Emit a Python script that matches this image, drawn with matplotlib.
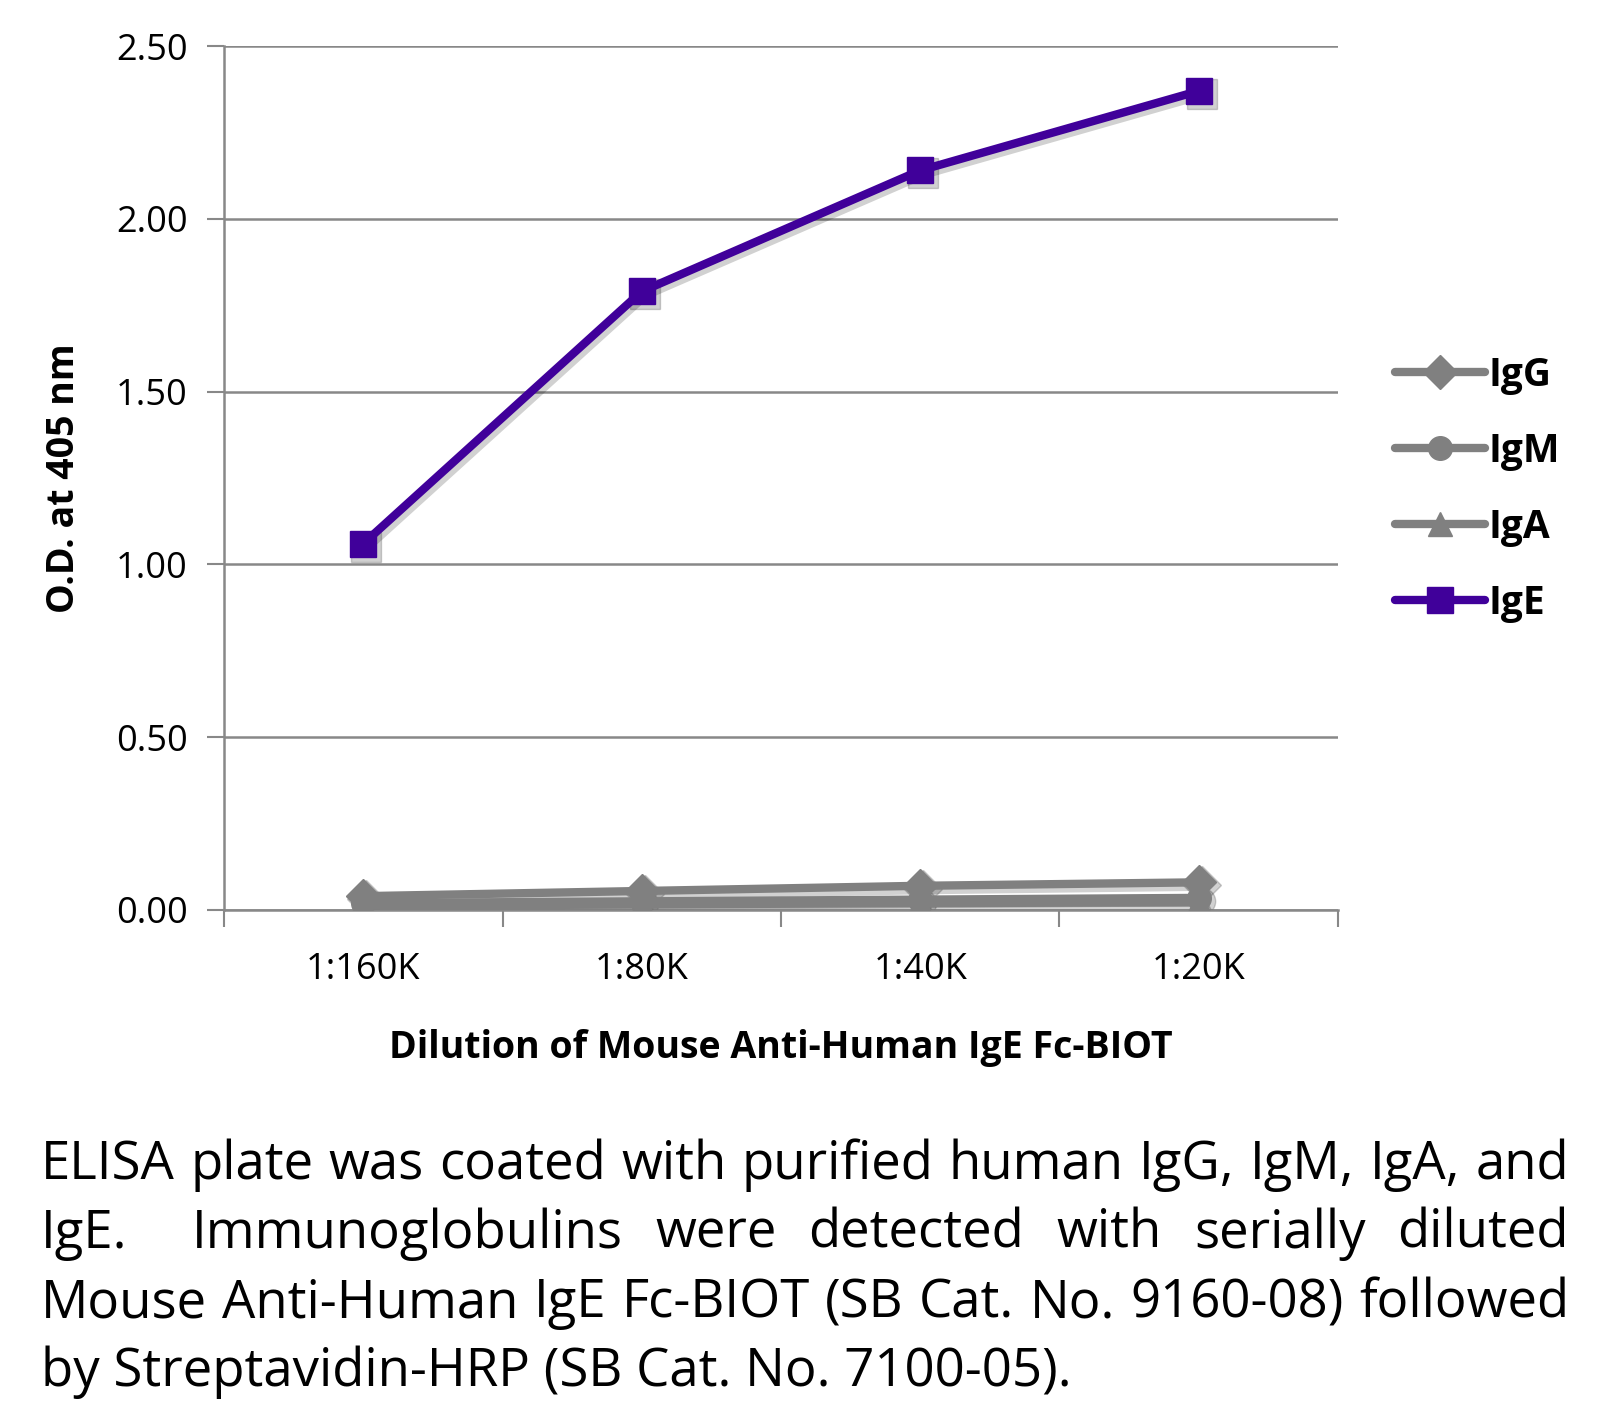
import matplotlib
matplotlib.use("Agg")
import re
import matplotlib.pyplot as plt
import matplotlib.transforms as mtransforms

plt.rcParams['font.family'] = ['Open Sans', 'DejaVu Sans']

dilutions = ["1:160K", "1:80K", "1:40K", "1:20K"]
igg = [0.04, 0.055, 0.07, 0.08]
igm = [0.02, 0.025, 0.03, 0.035]
iga = [0.012, 0.016, 0.02, 0.022]
ige = [1.06, 1.79, 2.14, 2.37]

series = [("IgG", igg, "D", "#808080"),
          ("IgM", igm, "o", "#808080"),
          ("IgA", iga, "^", "#808080"),
          ("IgE", ige, "s", "#40009a")]

caption = ["ELISA plate was coated with purified human IgG, IgM, IgA, and",
           "IgE.  Immunoglobulins were detected with serially diluted",
           "Mouse Anti-Human IgE Fc-BIOT (SB Cat. No. 9160-08) followed",
           "by Streptavidin-HRP (SB Cat. No. 7100-05)."]

fig = plt.figure(figsize=(16.05, 14.03), dpi=100)
ax = fig.add_axes([0.1396, 0.3514, 0.694, 0.6158])

x = list(range(len(dilutions)))
shadow_tr = mtransforms.offset_copy(ax.transData, fig=fig, x=3, y=-3, units="dots")
for name, vals, mk, col in series:
    ms = 19 if mk == "s" else 17
    # soft drop shadow
    ax.plot(x, vals, color="#000000", alpha=0.18, lw=8, marker=mk, ms=ms + 2,
            transform=shadow_tr, solid_capstyle="round", zorder=2)
    ax.plot(x, vals, color=col, lw=6, marker=mk, ms=ms,
            label=name, solid_capstyle="round", zorder=3)

ax.set_xlim(-0.5, 3.5)
ax.set_ylim(0, 2.5)
ax.set_yticks([0, 0.5, 1.0, 1.5, 2.0, 2.5])
ax.set_yticklabels(["%.2f" % v for v in [0, 0.5, 1.0, 1.5, 2.0, 2.5]])
ax.set_xticks([-0.5, 0.5, 1.5, 2.5, 3.5])
ax.set_xticklabels([])
ax.set_xticks(x, minor=True)
ax.set_xticklabels(dilutions, minor=True)
ax.tick_params(axis="x", which="major", length=12, width=1.5, color="#888888")
ax.tick_params(axis="x", which="minor", length=0, pad=30, labelsize=26)
ax.tick_params(axis="y", length=12, width=1.5, color="#888888", labelsize=26, pad=14)
ax.yaxis.grid(True, color="#888888", lw=1.8)
ax.set_axisbelow(True)
for s in ["top", "right"]:
    ax.spines[s].set_visible(False)
for s in ["left", "bottom"]:
    ax.spines[s].set_color("#888888")
    ax.spines[s].set_linewidth(1.8)

ax.set_ylabel("O.D. at 405 nm", fontsize=27, fontweight="bold", labelpad=24)
ax.set_xlabel("Dilution of Mouse Anti-Human IgE Fc-BIOT", fontsize=27,
              fontweight="bold", labelpad=30)

handles, labels = ax.get_legend_handles_labels()
leg = ax.legend(handles, labels, loc="center left", bbox_to_anchor=(1.02, 0.487),
                frameon=False, prop={"weight": "bold", "size": 28},
                handlelength=2.3, handletextpad=0.1, labelspacing=0.95, markerscale=1.0)

# justified caption
renderer = fig.canvas.get_renderer()
left_px, right_px = 41, 1569
ys = [1179, 1248, 1317, 1386]
H = fig.bbox.height
W = fig.bbox.width
fs = 38
for i, (line, y) in enumerate(zip(caption, ys)):
    yf = 1 - y / H
    if i == len(caption) - 1:
        fig.text(left_px / W, yf, line, fontsize=fs, va="baseline", ha="left")
        continue
    parts = re.split(r"( +)", line)
    words = parts[0::2]
    weights = [len(s) for s in parts[1::2]]
    objs = [fig.text(0, yf, w, fontsize=fs, va="baseline", ha="left") for w in words]
    widths = [o.get_window_extent(renderer).width for o in objs]
    unit = (right_px - left_px - sum(widths)) / sum(weights)
    pos = left_px
    for k, (o, w) in enumerate(zip(objs, widths)):
        o.set_x(pos / W)
        if k < len(weights):
            pos += w + unit * weights[k]

fig.savefig("out.png", dpi=100)
